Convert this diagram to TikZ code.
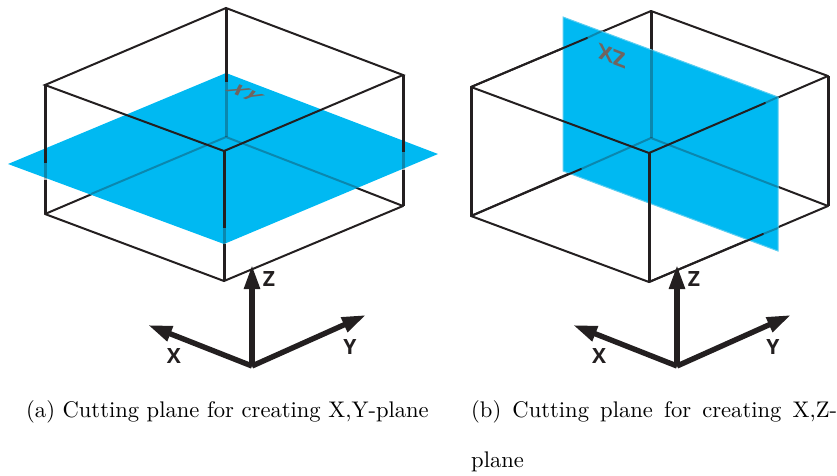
\documentclass[tikz,border=0pt]{standalone}
\usepackage{fontspec}
\usetikzlibrary{arrows.meta}
\newfontfamily\axfont{Open Sans}
\newfontfamily\capfont{lmroman10-regular.otf}
\definecolor{planecol}{RGB}{0,185,242}
\definecolor{planeedge}{RGB}{90,205,240}
\definecolor{inkcol}{RGB}{35,31,32}
\definecolor{labgray}{RGB}{112,100,95}
\tikzset{
  edge/.style={draw=inkcol,line width=2pt,line cap=round},
  post/.style={draw=inkcol,line width=3pt},
  seen/.style={draw=inkcol,line width=2pt,opacity=.32},
  seenpost/.style={draw=inkcol,line width=3pt,opacity=.32},
  axis/.style={draw=inkcol,line width=5.4pt,-{Triangle[length=24pt,width=15pt]}},
  axlab/.style={font=\axfont\fontsize{21}{21}\selectfont\bfseries,text=inkcol,inner sep=0pt},
  capb/.style={font=\capfont\fontsize{22.6}{50}\selectfont,inner sep=0pt,anchor=base west,align=justify,text width=366pt},
  capa/.style={font=\capfont\fontsize{22.6}{50}\selectfont,inner sep=0pt,anchor=base west}
}
\begin{document}
\begin{tikzpicture}[x=1pt,y=-1pt]
\useasboundingbox (0,0) rectangle (837,475);
% ---------- left box
\coordinate (aT) at (226,8);
\coordinate (aL) at (45,85);
\coordinate (aR) at (403,75);
\coordinate (aF) at (224,151);
\coordinate (aBL) at (45,214);
\coordinate (aBR) at (403,206);
\coordinate (aB) at (224,281);
\coordinate (aK) at (226,137);
\draw[edge] (aBL) -- (aK) -- (aBR);
\fill[planecol] (226,73) -- (438,154) -- (224,244) -- (8,164) -- cycle;
\draw[seen] (91,194) -- (aK) -- (358,188);
\draw[seenpost] (226,82) -- (aK);
\draw[seenpost] (224,228) -- (224,244);
\draw[seenpost] (45,163) -- (45,180);
\draw[seenpost] (403,152) -- (403,170);
\draw[edge] (aL) -- (aT) -- (aR) -- (aF) -- cycle;
\draw[edge] (aBL) -- (aB) -- (aBR);
\draw[post] (aT) -- (226,82);
\draw[post] (aF) -- (224,228);
\draw[post] (224,244) -- (aB);
\draw[post] (aL) -- (45,163);
\draw[post] (45,180) -- (aBL);
\draw[post] (aR) -- (403,152);
\draw[post] (403,170) -- (aBR);
\node[inner sep=0pt,text=labgray,font=\axfont\fontsize{22}{22}\selectfont\bfseries,
  cm={0.92,-0.38,0.92,0.38,(0,0)}] (xy) at (245,93) {XY};
% ---------- right box
\coordinate (bT) at (651,11);
\coordinate (bL) at (471,87);
\coordinate (bR) at (828,76);
\coordinate (bF) at (649,153);
\coordinate (bBL) at (471,216);
\coordinate (bBR) at (828,206);
\coordinate (bB) at (649,282);
\coordinate (bK) at (651,138);
\draw[edge] (bT) -- (bR);
\draw[edge] (bL) -- (bT);
\draw[edge] (bBL) -- (bK) -- (bBR);
\draw[edge] (bF) -- (bR);
\draw[edge] (bB) -- (bBR);
\draw[post] (bR) -- (bBR);
\draw[post] (bT) -- (651,50);
\fill[planecol,draw=planeedge,line width=1pt] (563,17) -- (778,97) -- (778,251) -- (563,171) -- cycle;
\draw[seen] (587,38) -- (602,31);
\draw[seen] (581,169) -- (bK) -- (778,187);
\draw[seenpost] (651,50) -- (bK);
\draw[seen] (765,103) -- (778,97);
\draw[seen] (763,234) -- (778,228);
\draw[edge] (bL) -- (587,38);
\draw[edge] (bBL) -- (581,169);
\draw[edge] (bL) -- (bF) -- (765,103);
\draw[edge] (bBL) -- (bB) -- (763,234);
\draw[post] (bL) -- (bBL);
\draw[post] (bF) -- (bB);
\node[inner sep=0pt,text=labgray,font=\axfont\fontsize{22}{22}\selectfont\bfseries,
  cm={1,-0.38,0,1,(0,0)}] (xz) at (612,56) {XZ};
% ---------- axes
\coordinate (aO) at (252,366);
\coordinate (aZ) at (252,265);
\coordinate (aX) at (148,325);
\coordinate (aY) at (366,315);
\draw[axis] (aO) -- (aZ);
\draw[axis] (aO) -- (aX);
\draw[axis] (aO) -- (aY);
\node[axlab] (zl) at (269,279) {Z};
\node[axlab] (xl) at (174,356) {X};
\node[axlab] (yl) at (350,347) {Y};
\coordinate (bO) at (677,366);
\coordinate (bZ) at (677,265);
\coordinate (bX) at (573,325);
\coordinate (bY) at (791,315);
\draw[axis] (bO) -- (bZ);
\draw[axis] (bO) -- (bX);
\draw[axis] (bO) -- (bY);
\node[axlab] (zr) at (694,279) {Z};
\node[axlab] (xr) at (599,356) {X};
\node[axlab] (yr) at (773,347) {Y};
% ---------- captions
\node[capa] (ca) at (26,417) {(a) Cutting plane for creating X,Y-plane};
\node[capb] (cb) at (471,417) {(b) Cutting plane for creating X,Z-plane};
\end{tikzpicture}
\end{document}
